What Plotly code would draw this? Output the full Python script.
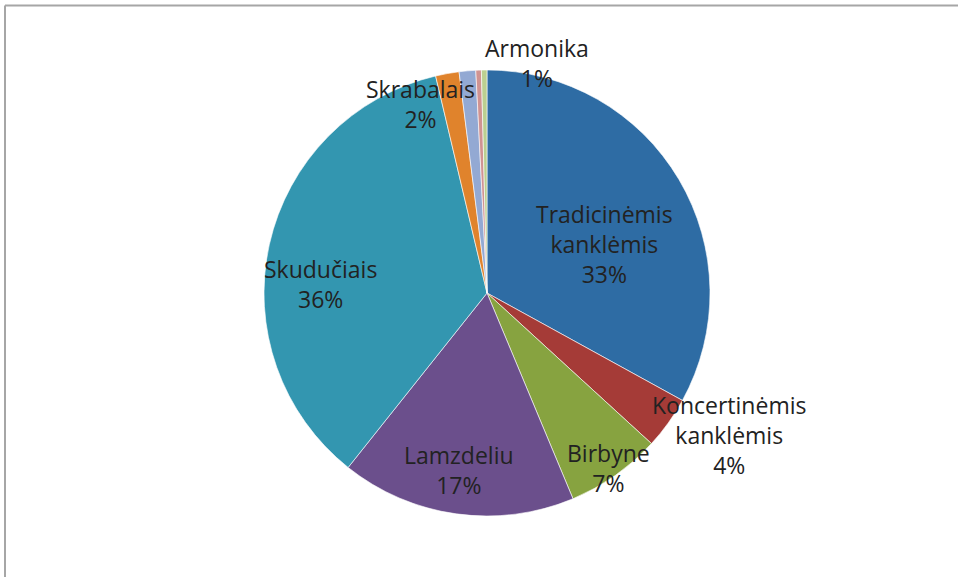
import plotly.graph_objects as go

labels = ["Tradicinėmis kanklėmis", "Koncertinėmis kanklėmis", "Birbyne", "Lamzdeliu",
          "Skudučiais", "Skrabalais", "Armonika", "Kita A", "Kita B"]
values = [33.0, 3.8, 6.9, 17.0, 35.6, 1.7, 1.2, 0.4, 0.4]
colors = ["#2E6CA4", "#A53B37", "#87A340", "#6B4F8C", "#3396B0",
          "#E0832C", "#93A9D3", "#D09392", "#BBCF91"]
shown = [True, True, True, True, True, True, True, False, False]

# label anchor positions in pixels (x from left, y from top) for a 958x577 canvas
label_pos = [(604, 244), (729, 435), (608, 468), (459, 470), (320, 284), (420, 104), (537, 63)]

W, H = 958, 577
cx, cy, r = 487, 293, 223

fig = go.Figure(go.Pie(
    labels=labels, values=values, sort=False, direction="clockwise", rotation=0,
    marker=dict(colors=colors, line=dict(color="white", width=0.6)),
    textinfo="none", hoverinfo="label+percent", showlegend=False,
    domain=dict(x=[(cx - r) / W, (cx + r) / W], y=[(H - cy - r) / H, (H - cy + r) / H]),
))

total = sum(values)
annotations = []
for i, (lab, val) in enumerate(zip(labels, values)):
    if not shown[i]:
        continue
    px, py = label_pos[i]
    name = lab.replace(" ", "<br>", 1)
    pct = round(val / total * 100)
    annotations.append(dict(
        x=px / W, y=1 - py / H, xref="paper", yref="paper",
        text=f"{name}<br>{pct}%", showarrow=False, align="center",
        xanchor="center", yanchor="middle",
        font=dict(family="Open Sans", size=23, color="#222222"),
    ))

fig.update_layout(
    width=W, height=H, margin=dict(l=0, r=0, t=0, b=0),
    paper_bgcolor="white", plot_bgcolor="white",
    annotations=annotations,
    shapes=[
        dict(type="line", xref="paper", yref="paper", x0=5 / W, x1=1, y0=1 - 5.5 / H, y1=1 - 5.5 / H,
             line=dict(color="#A6A6A6", width=2)),
        dict(type="line", xref="paper", yref="paper", x0=5 / W, x1=5 / W, y0=0, y1=1 - 5.5 / H,
             line=dict(color="#A6A6A6", width=2)),
    ],
)

fig.write_html("out.html", config={"displayModeBar": False},
               post_script="document.body.style.margin='0';document.body.style.overflow='hidden';")
